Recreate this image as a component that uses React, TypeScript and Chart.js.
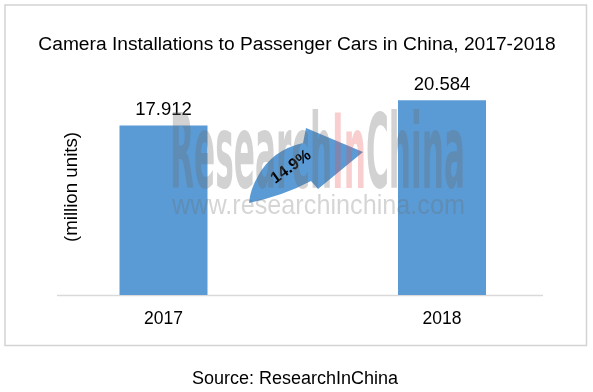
import { useEffect, useRef } from 'react';
import { Chart, registerables } from 'chart.js';

Chart.register(...registerables);

const categories = ['2017', '2018'];
const values = [17.912, 20.584];
const valueLabels = ['17.912', '20.584'];
const growthLabel = '14.9%';
const chartTitle = 'Camera Installations to Passenger Cars in China, 2017-2018';
const yAxisTitle = '(million units)';
const sourceText = 'Source: ResearchInChina';
const watermarkParts = [
  { text: 'Research', color: 'rgba(105,105,105,0.30)' },
  { text: 'In', color: 'rgba(230,80,80,0.28)' },
  { text: 'China', color: 'rgba(105,105,105,0.30)' },
];
const watermarkUrl = 'www.researchinchina.com';

const FONT = "'Liberation Sans', Arial, sans-serif";
const BLUE = '#5B9BD5';

const decorPlugin = {
  id: 'decor',
  beforeDraw(chart: any) {
    const { ctx, width, height } = chart;
    ctx.save();
    ctx.fillStyle = '#ffffff';
    ctx.fillRect(0, 0, width, height);
    // outer frame
    ctx.strokeStyle = '#d3d3d3';
    ctx.lineWidth = 1.5;
    ctx.strokeRect(5, 5, 581.5, 340.5);
    // title
    ctx.fillStyle = '#000000';
    ctx.font = `19.2px ${FONT}`;
    ctx.textAlign = 'center';
    ctx.textBaseline = 'middle';
    ctx.fillText(chartTitle, 297, 45);
    // y axis title
    ctx.font = `18.7px ${FONT}`;
    ctx.save();
    ctx.translate(72, 187);
    ctx.rotate(-Math.PI / 2);
    ctx.fillText(yAxisTitle, 0, 0);
    ctx.restore();
    // source
    ctx.font = `18px ${FONT}`;
    ctx.fillText(sourceText, 295, 379);
    ctx.restore();
  },
  beforeDatasetsDraw(chart: any) {
    const { ctx } = chart;
    const y = chart.scales.y.getPixelForValue(0);
    ctx.save();
    ctx.strokeStyle = '#d9d9d9';
    ctx.lineWidth = 1.5;
    ctx.beginPath();
    ctx.moveTo(57, y + 0.5);
    ctx.lineTo(543, y + 0.5);
    ctx.stroke();
    ctx.restore();
  },
  afterDatasetsDraw(chart: any) {
    const { ctx } = chart;
    const meta = chart.getDatasetMeta(0);
    ctx.save();
    // value labels
    ctx.fillStyle = '#000000';
    ctx.font = `18.5px ${FONT}`;
    ctx.textAlign = 'center';
    ctx.textBaseline = 'middle';
    meta.data.forEach((bar: any, i: number) => {
      ctx.fillText(valueLabels[i], bar.x, bar.y - 15.5);
    });

    // curved growth arrow
    ctx.fillStyle = BLUE;
    ctx.beginPath();
    ctx.moveTo(249, 203);
    ctx.quadraticCurveTo(285, 195, 311, 181);
    ctx.lineTo(318, 189);
    ctx.lineTo(363, 152);
    ctx.lineTo(306, 128);
    ctx.lineTo(303, 143);
    ctx.quadraticCurveTo(272, 150, 258, 176);
    ctx.quadraticCurveTo(250, 190, 249, 203);
    ctx.closePath();
    ctx.fill();

    ctx.save();
    ctx.translate(291, 167);
    ctx.rotate(-36 * Math.PI / 180);
    ctx.fillStyle = '#000000';
    ctx.font = `bold 16px ${FONT}`;
    ctx.fillText(growthLabel, 0, 0);
    ctx.restore();

    // watermark
    const wmFont = "bold 100px 'Liberation Sans Narrow', 'DejaVu Sans Condensed', sans-serif";
    ctx.font = wmFont;
    ctx.textAlign = 'left';
    ctx.textBaseline = 'alphabetic';
    const widths = watermarkParts.map((p) => ctx.measureText(p.text).width);
    const total = widths.reduce((a, b) => a + b, 0);
    const sx = 295 / total;
    ctx.save();
    ctx.translate(170, 188);
    ctx.scale(sx, 1.04);
    let x = 0;
    watermarkParts.forEach((p, i) => {
      ctx.fillStyle = p.color;
      ctx.fillText(p.text, x, 0);
      x += widths[i];
    });
    ctx.restore();

    ctx.font = `28px ${FONT}`;
    const uw = ctx.measureText(watermarkUrl).width;
    ctx.save();
    ctx.translate(172, 214);
    ctx.scale(293 / uw, 1);
    ctx.fillStyle = 'rgba(105,105,105,0.28)';
    ctx.fillText(watermarkUrl, 0, 0);
    ctx.restore();

    ctx.restore();
  },
};

export default function App() {
  const canvasRef = useRef<HTMLCanvasElement | null>(null);

  useEffect(() => {
    if (!canvasRef.current) return;
    const chart = new Chart(canvasRef.current, {
      type: 'bar',
      data: {
        labels: categories,
        datasets: [
          {
            data: values,
            backgroundColor: BLUE,
            borderWidth: 0,
            barPercentage: 0.316,
            categoryPercentage: 1,
          },
        ],
      },
      options: {
        animation: false,
        responsive: false,
        maintainAspectRatio: false,
        layout: { padding: { left: 24.25, right: 11.75, top: 58.5, bottom: 0 } },
        plugins: {
          legend: { display: false },
          tooltip: { enabled: false },
          title: { display: false },
        },
        scales: {
          x: {
            grid: { display: false, drawTicks: false },
            border: { display: false },
            ticks: {
              color: '#000000',
              font: { family: FONT, size: 17.5 },
              padding: 14,
            },
            afterFit: (scale: any) => {
              scale.height = 97;
            },
          },
          y: {
            display: false,
            min: 0,
            max: 25,
          },
        },
      },
      plugins: [decorPlugin],
    });
    return () => chart.destroy();
  }, []);

  return (
    <div style={{ position: 'absolute', left: 0, top: 0, width: 593, height: 392 }}>
      <canvas ref={canvasRef} width={593} height={392} style={{ width: 593, height: 392 }} />
    </div>
  );
}
